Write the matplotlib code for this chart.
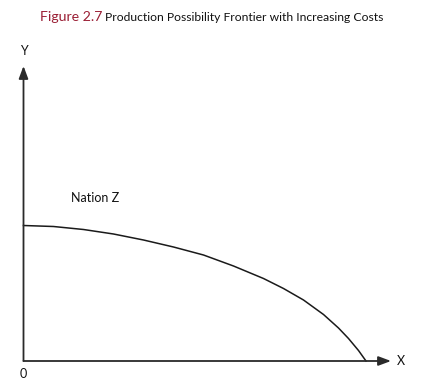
import matplotlib
matplotlib.use("Agg")
import matplotlib.pyplot as plt

# Production possibility frontier (X output, Y output)
x_vals = [0, 30, 60, 90, 120, 150, 180, 210, 240, 260, 280, 300, 315, 325, 335, 342.5]
y_vals = [135.5, 134.5, 131.5, 127, 121, 114, 106, 95, 82.5, 72.5, 61, 46.5, 33, 22.5,
          10.5, 0]

title_fig = "Figure 2.7"
title_rest = "Production Possibility Frontier with Increasing Costs"
label_nation = "Nation Z"

W, H = 435, 389
fig = plt.figure(figsize=(W / 100, H / 100), dpi=100)
ax = fig.add_axes([0, 0, 1, 1])
ox, oy = 23.5, 361
ax.set_xlim(-ox, W - ox)
ax.set_ylim(-(H - oy), oy)
ax.axis("off")

font = ["Lato", "DejaVu Sans"]
axis_color = "#2a2a2a"

# axis arrows
arrow_kw = dict(arrowstyle="-|>,head_length=0.75,head_width=0.28",
                color=axis_color, lw=1.3, shrinkA=0, shrinkB=0)
ax.annotate("", xy=(367.5, 0), xytext=(0, 0), arrowprops=arrow_kw)
ax.annotate("", xy=(0, 295), xytext=(0, 0), arrowprops=arrow_kw)

# frontier curve
ax.plot(x_vals, y_vals, color="#1a1a1a", lw=1.1, solid_joinstyle="round")

# labels
ax.text(373, 0, "X", family=font, fontsize=9, va="center", ha="left", color="#111111")
ax.text(0, 304, "Y", family=font, fontsize=9, va="bottom", ha="center", color="#111111")
ax.text(0, -7, "0", family=font, fontsize=9, va="top", ha="center", color="#111111")
ax.text(71.5, 163, label_nation, family=font, fontsize=9, va="center", ha="center",
        color="#111111")

# title in two parts
t1 = fig.text(40 / W, 1 - 21 / H, title_fig, family=font, fontsize=10.2,
              color="#9b1f35", va="baseline", ha="left")
fig.canvas.draw()
bb = t1.get_window_extent(renderer=fig.canvas.get_renderer())
fig.text((bb.x1 + 3) / W, 1 - 21 / H, title_rest, family=font, fontsize=8.7,
         color="#111111", va="baseline", ha="left")

fig.savefig("out.png", dpi=100)
